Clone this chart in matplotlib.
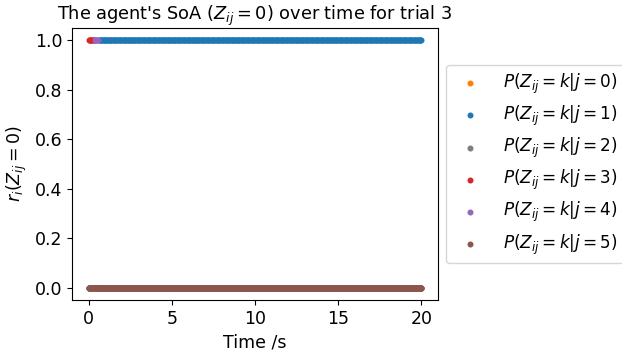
import matplotlib
matplotlib.use("Agg")
import matplotlib.pyplot as plt
import numpy as np

# sampled time axis (s) and the agent that holds r_i = 1 in each period
time = np.round(np.arange(0, 20.0001, 0.05), 3)
switch_times = [0.0, 0.4, 0.6]   # start of each winning period
winners = [3, 4, 1]              # j that is 1.0 from that time on

labels = [r"$P(Z_{ij}=k|j=%d)$" % j for j in range(6)]
colors = ["tab:orange", "tab:blue", "tab:gray", "tab:red", "tab:purple", "tab:brown"]

idx = np.searchsorted(switch_times, time, side="right") - 1
winner_at_t = np.array(winners)[idx]

plt.rcParams["font.size"] = 12.5

fig = plt.figure(figsize=(6.22, 3.51), dpi=100)
ax = fig.add_axes([0.116, 0.145, 0.588, 0.775])

for j in range(6):
    vals = (winner_at_t == j).astype(float)
    ax.scatter(time, vals, s=11, color=colors[j], label=labels[j])

ax.set_title(r"The agent's SoA ($Z_{ij}=0$) over time for trial 3", fontsize=12.8)
ax.set_xlabel("Time /s")
ax.set_ylabel(r"$r_i(Z_{ij}=0)$")
ax.set_xticks([0, 5, 10, 15, 20])
ax.set_yticks([0.0, 0.2, 0.4, 0.6, 0.8, 1.0])
ax.legend(loc="center left", bbox_to_anchor=(1, 0.5), fontsize=12.2,
          handletextpad=0.95, labelspacing=0.47)

fig.savefig("out.png", dpi=100)
